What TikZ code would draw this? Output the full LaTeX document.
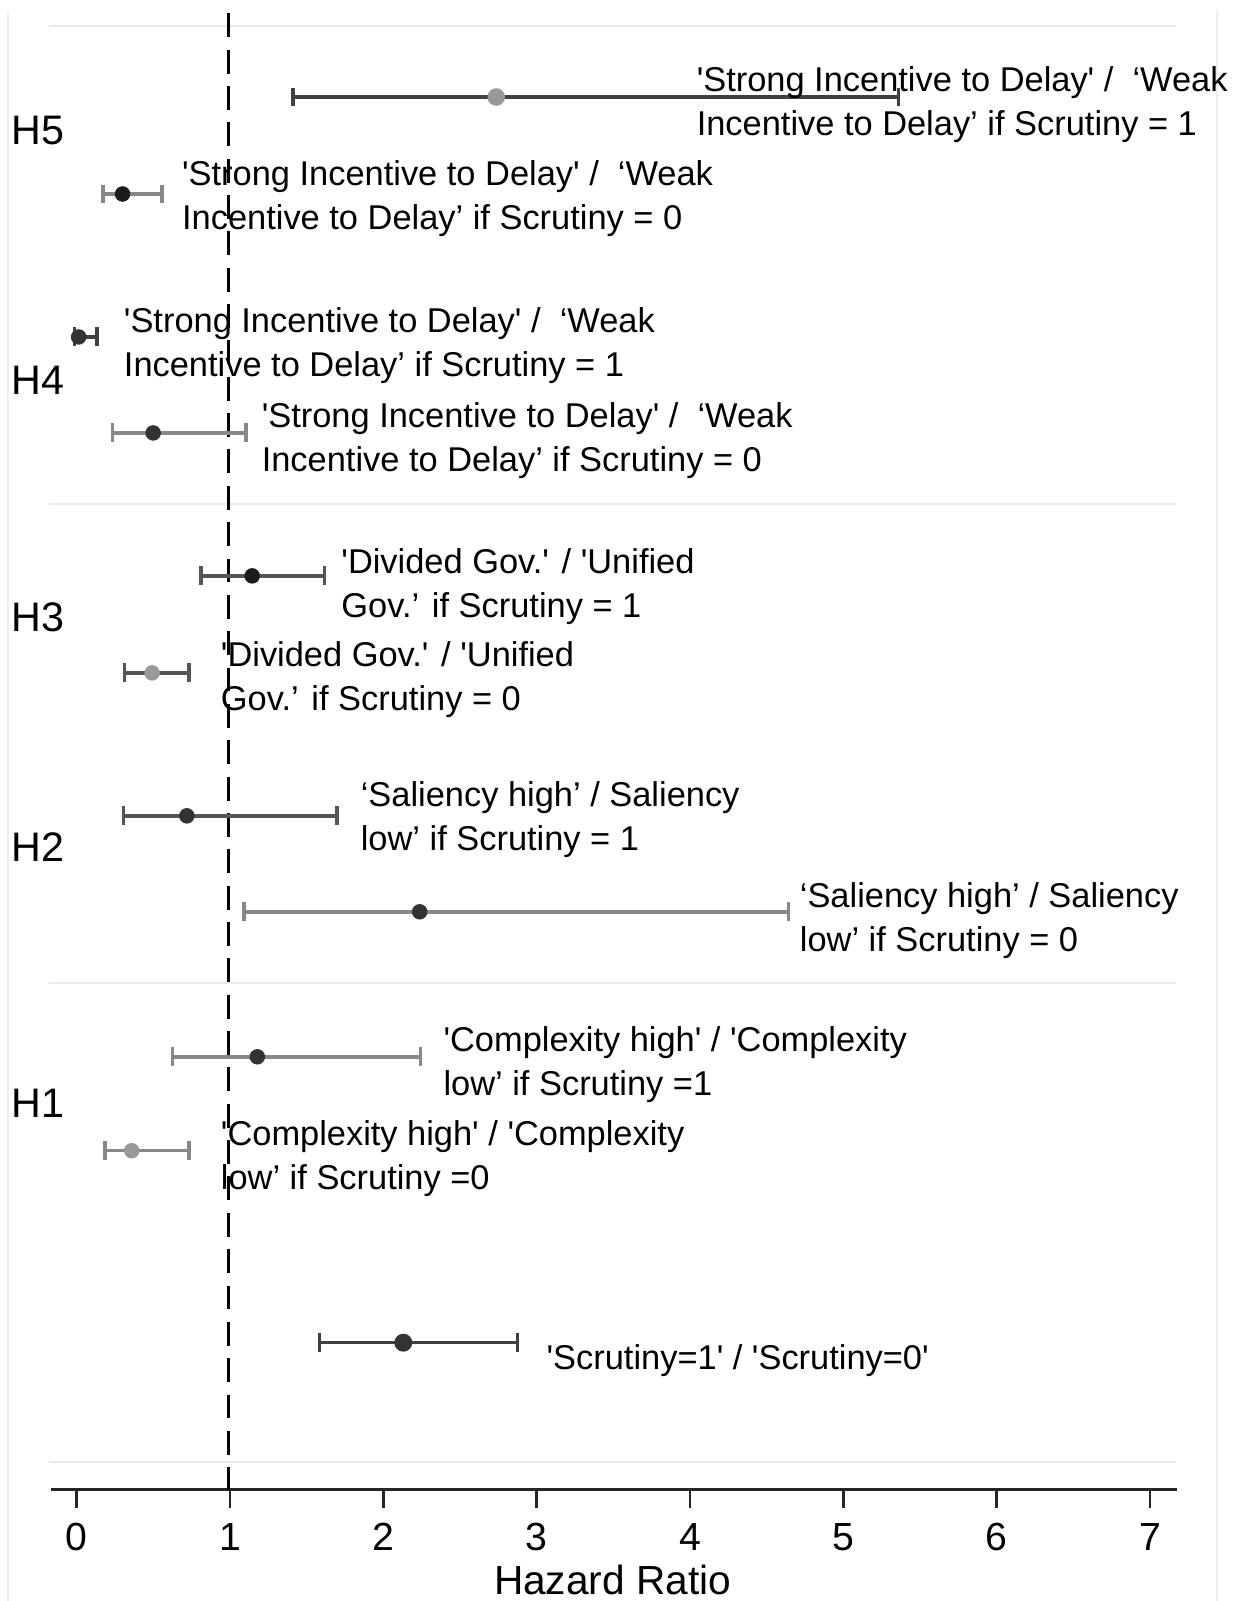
\documentclass[tikz,border=0pt]{standalone}
\usepackage{fontspec}
\newfontfamily\labfont{Liberation Sans}[Ligatures=TeXOff]
\definecolor{gridc}{HTML}{EBEBEB}
\definecolor{framec}{HTML}{EFEFEF}
\definecolor{cidark}{HTML}{404040}
\definecolor{cimid}{HTML}{555555}
\definecolor{cilight}{HTML}{888888}
\definecolor{ptblack}{HTML}{1C1C1C}
\definecolor{ptdark}{HTML}{333333}
\definecolor{ptlight}{HTML}{999999}
\definecolor{axisc}{HTML}{262626}
\newcommand\cibar[8]{%
  \coordinate (#1-lo) at (#3,#2);
  \coordinate (#1-hi) at (#5,#2);
  \draw[cil,draw=#6] (#1-lo) -- (#1-hi);
  \draw[cil,draw=#6] ([yshift=4.65pt]#1-lo) -- ([yshift=-4.65pt]#1-lo);
  \draw[cil,draw=#6] ([yshift=4.65pt]#1-hi) -- ([yshift=-4.65pt]#1-hi);
  \node[dot,fill=#7,minimum size=#8] (#1-pt) at (#4,#2) {};
}
\begin{document}
\begin{tikzpicture}[x=0.5pt,y=-0.5pt,
  cil/.style={line width=1.7pt},
  dot/.style={circle,inner sep=0pt,draw=none},
  lab/.style={inner sep=0pt,anchor=base west,font=\labfont\fontsize{16.85}{20}\selectfont},
  hlab/.style={inner sep=0pt,anchor=base west,font=\labfont\fontsize{20.2}{24}\selectfont},
  ticklab/.style={inner sep=0pt,anchor=base,font=\labfont\fontsize{19.2}{23}\selectfont},
  gridline/.style={draw=gridc,line width=1pt},
  frameline/.style={draw=framec,line width=1pt},
  axisline/.style={draw=axisc,line width=1.3pt},
  refline/.style={draw=black,line width=1.3pt,dash pattern=on 11.7pt off 6.1pt}]
\useasboundingbox (0,0) rectangle (1212,1568);
% frame
\coordinate (fl-t) at (8,10); \coordinate (fl-b) at (8,1568);
\coordinate (fr-t) at (1192,10); \coordinate (fr-b) at (1192,1568);
\draw[frameline] (fl-t) -- (fl-b);
\draw[frameline] (fr-t) -- (fr-b);
% grid lines
\foreach \g/\yy in {g1/25.5,g2/494,g3/963,g4/1432}{
  \coordinate (\g-l) at (48,\yy); \coordinate (\g-r) at (1152,\yy);
  \draw[gridline] (\g-l) -- (\g-r);
}
% axis
\coordinate (ax-l) at (50,1459); \coordinate (ax-r) at (1153,1459);
\draw[axisline] (ax-l) -- (ax-r);
\foreach \v in {0,...,7}{
  \coordinate (tk\v) at ({75+150.2*\v},1459);
  \draw[axisline] (tk\v) -- ++(0,18);
  \node[ticklab] (tl\v) at ({75+150.2*\v},1519) {\v};
}
\node[inner sep=0pt,anchor=base,font=\labfont\fontsize{19.9}{24}\selectfont] (xtitle) at (600,1562) {Hazard Ratio};
% reference line
\coordinate (ref-top) at (224,13); \coordinate (ref-bot) at (224,1459);
\draw[refline] (ref-top) -- (ref-bot);
% group labels
\node[hlab] (H5) at (11,141.5) {H5};
\node[hlab] (H4) at (11,386.5) {H4};
\node[hlab] (H3) at (11,618.5) {H3};
\node[hlab] (H2) at (11,843.5) {H2};
\node[hlab] (H1) at (11,1094) {H1};
% estimates
\cibar{h5a}{95}{287}{486}{880}{cidark}{ptlight}{8.6pt}
\cibar{h5b}{190}{101}{120}{158.5}{cilight}{ptblack}{7.6pt}
\cibar{h4a}{330}{73}{77}{95}{cidark}{ptdark}{7.6pt}
\cibar{h4b}{424}{110}{150}{241}{cilight}{ptdark}{7.6pt}
\cibar{h3a}{564}{197}{247}{318}{cimid}{ptblack}{7.6pt}
\cibar{h3b}{659}{122}{149}{185}{cimid}{ptlight}{7.6pt}
\cibar{h2a}{799}{121}{183}{330}{cimid}{ptdark}{7.6pt}
\cibar{h2b}{893}{239}{411}{772}{cilight}{ptdark}{7.6pt}
\cibar{h1a}{1035}{169}{252}{412}{cilight}{ptdark}{7.6pt}
\cibar{h1b}{1127}{103}{129}{185}{cilight}{ptlight}{7.6pt}
\cibar{scr}{1315}{313}{395}{507}{cidark}{ptdark}{8.8pt}
% labels
\node[lab] (l5a1) at (682,90) {'Strong Incentive to Delay' / ~‘Weak};
\node[lab] (l5a2) at (682,132.5) {Incentive to Delay’ if Scrutiny = 1};
\node[lab] (l5b1) at (178,182) {'Strong Incentive to Delay' / ~‘Weak};
\node[lab] (l5b2) at (178,224.5) {Incentive to Delay’ if Scrutiny = 0};
\node[lab] (l4a1) at (121,326) {'Strong Incentive to Delay' / ~‘Weak};
\node[lab] (l4a2) at (121,368.5) {Incentive to Delay’ if Scrutiny = 1};
\node[lab] (l4b1) at (256,419) {'Strong Incentive to Delay' / ~‘Weak};
\node[lab] (l4b2) at (256,461.5) {Incentive to Delay’ if Scrutiny = 0};
\node[lab] (l3a1) at (334,562) {'Divided Gov.' / 'Unified};
\node[lab] (l3a2) at (334,604.5) {Gov.’ if Scrutiny = 1};
\node[lab] (l3b1) at (216,653) {'Divided Gov.' / 'Unified};
\node[lab] (l3b2) at (216,696) {Gov.’ if Scrutiny = 0};
\node[lab] (l2a1) at (353,790) {‘Saliency high’ / Saliency};
\node[lab] (l2a2) at (353,832.5) {low’ if Scrutiny = 1};
\node[lab] (l2b1) at (783,889) {‘Saliency high’ / Saliency};
\node[lab] (l2b2) at (783,931.5) {low’ if Scrutiny = 0};
\node[lab] (l1a1) at (434,1030) {'Complexity high' / 'Complexity};
\node[lab] (l1a2) at (434,1072.5) {low’ if Scrutiny =1};
\node[lab] (l1b1) at (216,1122) {'Complexity high' / 'Complexity};
\node[lab] (l1b2) at (216,1165) {low’ if Scrutiny =0};
\node[lab] (lscr) at (535,1341) {'Scrutiny=1' / 'Scrutiny=0'};
\end{tikzpicture}
\end{document}
